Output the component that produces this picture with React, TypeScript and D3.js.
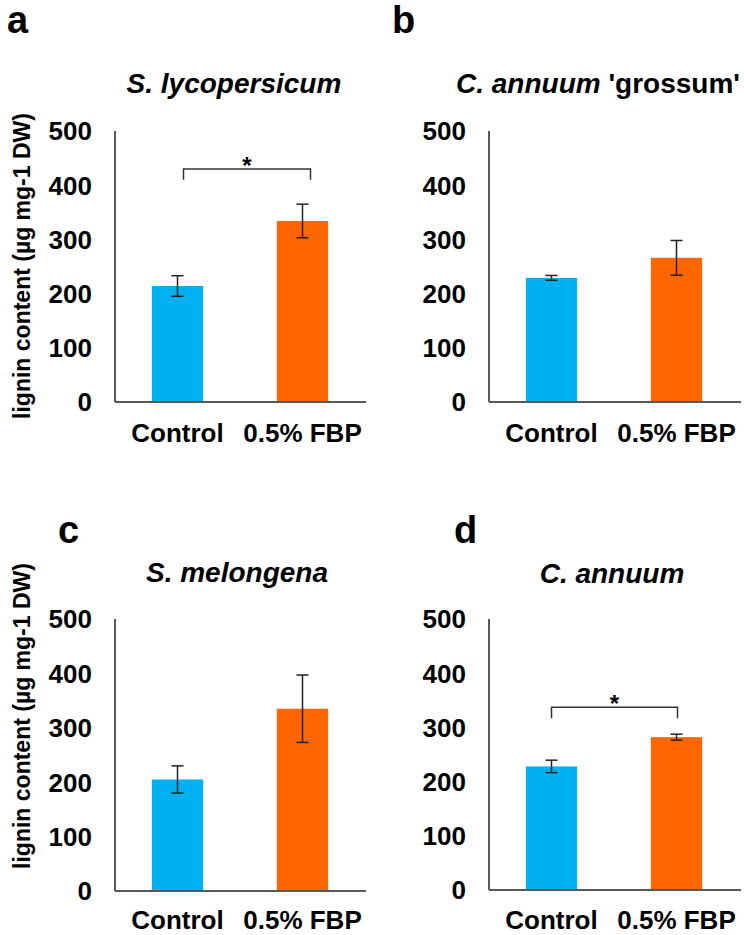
import * as d3 from "d3";

// treatment groups and measured lignin content (mean, error)
const groups = ["Control", "0.5% FBP"];
const yTicks = [0, 100, 200, 300, 400, 500];

const lycoMeans = [214, 334];
const lycoErrs = [19, 31];
const grossumMeans = [229, 266];
const grossumErrs = [4.5, 32];
const melongenaMeans = [205, 335];
const melongenaErrs = [25, 62];
const annuumMeans = [228, 282];
const annuumErrs = [11.5, 5.5];

const barColors = ["#00B0F0", "#FF6600"];
const yLabel = "lignin content (µg mg-1 DW)";
const FONT = "Liberation Sans, Arial, sans-serif";

const panels = [
  { letter: "a", italic: "S. lycopersicum", plain: "", means: lycoMeans, errs: lycoErrs,
    x0: 115, x1: 366, top: 131, bottom: 402, letterPos: [7, 33], titleX: 234, titleY: 93,
    yLabelY: 266, labelY: 442, sig: { y: 430, drop: 410, shift: [6, 8] } },
  { letter: "b", italic: "C. annuum", plain: " 'grossum'", means: grossumMeans, errs: grossumErrs,
    x0: 489, x1: 741, top: 131, bottom: 402, letterPos: [392, 33], titleX: 598, titleY: 93,
    yLabelY: null, labelY: 442, sig: null },
  { letter: "c", italic: "S. melongena", plain: "", means: melongenaMeans, errs: melongenaErrs,
    x0: 115, x1: 366, top: 619, bottom: 891, letterPos: [58, 543], titleX: 237, titleY: 582,
    yLabelY: 716, labelY: 929, sig: null },
  { letter: "d", italic: "C. annuum", plain: "", means: annuumMeans, errs: annuumErrs,
    x0: 489, x1: 741, top: 619, bottom: 890, letterPos: [454, 543], titleX: 612, titleY: 583,
    yLabelY: null, labelY: 929, sig: { y: 337, drop: 317, shift: [0, 1] } },
];

function Panel({ p }) {
  const x = d3.scaleBand().domain(groups).range([p.x0, p.x0 + 250]).paddingInner(0.59).paddingOuter(0.295);
  const y = d3.scaleLinear().domain([0, 500]).range([p.bottom, p.top]);
  const cx = (g) => x(g) + x.bandwidth() / 2;

  return (
    <g>
      <text x={p.letterPos[0]} y={p.letterPos[1]} fontSize={38} fontWeight="bold" fontFamily={FONT}>{p.letter}</text>
      <text x={p.titleX} y={p.titleY} fontSize={28} fontWeight="bold" fontFamily={FONT} textAnchor="middle">
        <tspan fontStyle="italic">{p.italic}</tspan>
        {p.plain && <tspan>{p.plain}</tspan>}
      </text>
      {p.yLabelY != null && (
        <text transform={`translate(30,${p.yLabelY}) rotate(-90)`} fontSize={23} fontWeight="bold"
          fontFamily={FONT} textAnchor="middle">{yLabel}</text>
      )}
      {yTicks.map((t) => (
        <text key={t} x={p.x0 - 23} y={y(t)} dy="0.36em" textAnchor="end" fontSize={26}
          fontWeight="bold" fontFamily={FONT}>{t}</text>
      ))}
      {groups.map((g, i) => (
        <rect key={g} x={x(g)} y={y(p.means[i])} width={x.bandwidth()} height={y(0) - y(p.means[i])} fill={barColors[i]} />
      ))}
      {groups.map((g, i) => {
        const c = cx(g);
        const hi = y(p.means[i] + p.errs[i]);
        const lo = y(p.means[i] - p.errs[i]);
        return (
          <g key={g} stroke="#222" strokeWidth={1.5}>
            <line x1={c} x2={c} y1={hi} y2={lo} />
            <line x1={c - 6} x2={c + 6} y1={hi} y2={hi} />
            <line x1={c - 6} x2={c + 6} y1={lo} y2={lo} />
          </g>
        );
      })}
      <line x1={p.x0} x2={p.x0} y1={p.top} y2={p.bottom} stroke="#595959" strokeWidth={2} />
      <line x1={p.x0} x2={p.x1} y1={p.bottom} y2={p.bottom} stroke="#595959" strokeWidth={2} />
      {groups.map((g) => (
        <text key={g} x={cx(g)} y={p.labelY} textAnchor="middle" fontSize={26} fontWeight="bold" fontFamily={FONT}>{g}</text>
      ))}
      {p.sig && (() => {
        const a = cx(groups[0]) + p.sig.shift[0];
        const b = cx(groups[1]) + p.sig.shift[1];
        return (
          <g>
            <path d={`M${a},${y(p.sig.drop)}V${y(p.sig.y)}H${b}V${y(p.sig.drop)}`} fill="none" stroke="#333" strokeWidth={1.5} />
            <text x={(a + b) / 2} y={y(p.sig.y) + 5} textAnchor="middle" fontSize={24} fontWeight="bold" fontFamily={FONT}>*</text>
          </g>
        );
      })()}
    </g>
  );
}

export default function App() {
  return (
    <svg width={744} height={935} style={{ position: "absolute", left: 0, top: 0, background: "#fff" }}>
      <rect width={744} height={935} fill="#fff" />
      {panels.map((p) => <Panel key={p.letter} p={p} />)}
    </svg>
  );
}
